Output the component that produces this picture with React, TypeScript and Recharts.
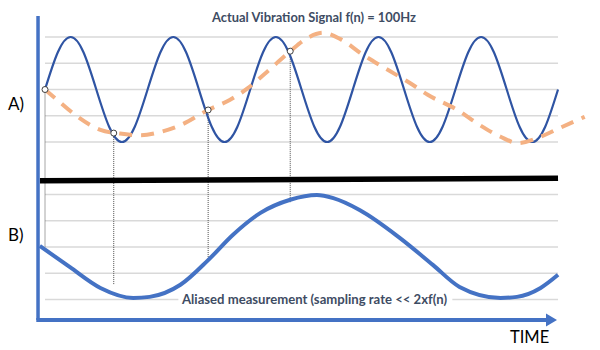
import React from "react";
import { ComposedChart, Line, Scatter, XAxis, YAxis, ReferenceLine } from "recharts";

// ---- data (time in ms, amplitude in signal units) ----
const waveTimes = [
  0, 1.25, 2.5, 3.75, 5, 6.25, 7.5, 8.75,
  10, 11.25, 12.5, 13.75, 15, 16.25, 17.5, 18.75,
  20, 21.25, 22.5, 23.75, 25, 26.25, 27.5, 28.75,
  30, 31.25, 32.5, 33.75, 35, 36.25, 37.5, 38.75,
  40, 41.25, 42.5, 43.75, 45, 46.25, 47.5, 48.75, 50,
];
const waveValues = [
  0, 0.71, 1, 0.71, 0, -0.71, -1, -0.71,
  0, 0.71, 1, 0.71, 0, -0.71, -1, -0.71,
  0, 0.71, 1, 0.71, 0, -0.71, -1, -0.71,
  0, 0.71, 1, 0.71, 0, -0.71, -1, -0.71,
  0, 0.71, 1, 0.71, 0, -0.71, -1, -0.71, 0,
];

const aliasTimes = [
  0, 1.2, 3.2, 5.4, 7.3, 9.3, 11.2, 13.2, 15.9, 18.0, 19.8, 21.6, 23.9,
  25.4, 27.1, 28.8, 31.0, 33.1, 35.6, 37.3, 40.2, 42.4, 44.4, 46.1, 48.3, 50.2, 52.6,
];
const aliasValues = [
  0, -0.2, -0.52, -0.77, -0.84, -0.87, -0.81, -0.68, -0.39, -0.2, 0.03, 0.33, 0.73,
  0.96, 1.08, 0.96, 0.66, 0.41, 0.12, -0.1, -0.39, -0.68, -0.9, -1.02, -0.9, -0.73, -0.52,
];

const measuredTimes = [
  -0.5, 2.4, 5.4, 8.6, 10.2, 13.2, 15.9, 18.3, 21.0, 23.9, 26.5,
  28.1, 30.7, 34.6, 37.8, 40.4, 44.4, 46.0, 48.3, 50,
];
const measuredValues = [
  0.02, -0.38, -0.78, -0.97, -0.95, -0.72, -0.25, 0.23, 0.65, 0.9, 0.99,
  0.93, 0.7, 0.17, -0.34, -0.76, -0.97, -0.95, -0.78, -0.53,
];

const separatorTimes = [-0.5, 50];
const separatorValues = [1.26, 1.31];

const sampleTimes = [0, 6.7, 15.9, 23.9];
const sampleTopValues = [0, -0.83, -0.39, 0.73];
const sampleBottomValues = [0, -0.72, -0.25, 0.84];

const gridLevels = [1, 0.5, 0, -0.5, -1];

const titleTop = "Actual Vibration Signal f(n) = 100Hz";
const titleBottom = "Aliased measurement (sampling rate << 2xf(n)";
const labelA = "A)";
const labelB = "B)";
const labelTime = "TIME";

// ---- layout constants ----
const W = 600;
const H = 350;
const TOP_OFFSET = 3;
const X_DOMAIN: [number, number] = [-4.386, 54.09];
const Y_DOMAIN: [number, number] = [-1.962, 4.705];
const AXIS_X = -0.68;
const AXIS_END = 49.9;
const AXIS_BOTTOM = -1.39;
const AXIS_TOP = 4.4;
const GRID_START = 0;
const GRID_END = 50;
const LABEL_GAP: [number, number] = [13.0, 39.7];

const BLUE = "#4472C4";
const DARK_BLUE = "#2F54A3";
const ORANGE = "#F4B183";
const TITLE_COLOR = "#3E4C63";
const FONT = "Lato, 'Open Sans', sans-serif";

const zip = (ts: number[], vs: number[]) => ts.map((t, i) => ({ t, v: vs[i] }));

const waveData = zip(waveTimes, waveValues);
const aliasData = zip(aliasTimes, aliasValues);
const measuredData = zip(measuredTimes, measuredValues);
const separatorData = zip(separatorTimes, separatorValues);
const sampleData = zip(sampleTimes, sampleTopValues);

const top = (d: { v: number }) => d.v + TOP_OFFSET;
const plain = (d: { v: number }) => d.v;

// bottom grid segments: lowest line is interrupted behind the caption
const bottomGridSegments: { y: number; from: number; to: number }[] = [];
gridLevels.forEach((g) => {
  if (g === -1) {
    bottomGridSegments.push({ y: g, from: GRID_START, to: LABEL_GAP[0] });
    bottomGridSegments.push({ y: g, from: LABEL_GAP[1], to: GRID_END });
  } else {
    bottomGridSegments.push({ y: g, from: GRID_START, to: GRID_END });
  }
});

const ArrowShape = (props: any) => {
  const { x1, y1, x2, y2 } = props;
  return (
    <g>
      <line x1={x1} y1={y1} x2={x2 - 9} y2={y2} stroke={BLUE} strokeWidth={4} />
      <polygon
        points={`${x2},${y2} ${x2 - 11},${y2 - 6.5} ${x2 - 11},${y2 + 6.5}`}
        fill={BLUE}
      />
    </g>
  );
};

const SampleDot = (props: any) => {
  const { cx, cy } = props;
  return <circle cx={cx} cy={cy} r={3} fill="#fff" stroke="#404040" strokeWidth={1} />;
};

export default function App() {
  return (
    <div style={{ position: "absolute", left: 0, top: 0, width: W, height: H, background: "#fff" }}>
      <ComposedChart width={W} height={H} margin={{ top: 0, right: 0, bottom: 0, left: 0 }}>
        <XAxis type="number" dataKey="t" domain={X_DOMAIN} hide allowDataOverflow />
        <YAxis type="number" domain={Y_DOMAIN} hide allowDataOverflow />

        {gridLevels.map((g) => (
          <ReferenceLine
            key={"gt" + g}
            segment={[{ x: GRID_START, y: g + TOP_OFFSET }, { x: GRID_END, y: g + TOP_OFFSET }]}
            stroke="#D9D9D9"
            strokeWidth={1.5}
            ifOverflow="visible"
          />
        ))}
        {bottomGridSegments.map((s, i) => (
          <ReferenceLine
            key={"gb" + i}
            segment={[{ x: s.from, y: s.y }, { x: s.to, y: s.y }]}
            stroke="#D9D9D9"
            strokeWidth={1.5}
            ifOverflow="visible"
          />
        ))}

        {sampleTimes.map((t, i) => (
          <ReferenceLine
            key={"s" + i}
            segment={[
              { x: t, y: sampleTopValues[i] + TOP_OFFSET },
              { x: t, y: sampleBottomValues[i] },
            ]}
            stroke="#4D4D4D"
            strokeWidth={1}
            strokeDasharray="1 1"
            ifOverflow="visible"
          />
        ))}

        <Line
          data={waveData}
          dataKey={top}
          type="natural"
          stroke={DARK_BLUE}
          strokeWidth={2.2}
          dot={false}
          activeDot={false}
          isAnimationActive={false}
        />
        <Line
          data={aliasData}
          dataKey={top}
          type="monotone"
          stroke={ORANGE}
          strokeWidth={4}
          strokeDasharray="13 9"
          dot={false}
          activeDot={false}
          isAnimationActive={false}
        />
        <Line
          data={separatorData}
          dataKey={plain}
          type="linear"
          stroke="#000"
          strokeWidth={5.5}
          dot={false}
          activeDot={false}
          isAnimationActive={false}
        />
        <Line
          data={measuredData}
          dataKey={plain}
          type="monotone"
          stroke={BLUE}
          strokeWidth={4}
          dot={false}
          activeDot={false}
          isAnimationActive={false}
        />
        <Scatter
          data={sampleData}
          dataKey={top}
          shape={<SampleDot />}
          isAnimationActive={false}
        />

        <ReferenceLine
          segment={[{ x: AXIS_X, y: AXIS_BOTTOM }, { x: AXIS_X, y: AXIS_TOP }]}
          stroke={BLUE}
          strokeWidth={3.5}
          ifOverflow="visible"
        />
        <ReferenceLine
          segment={[{ x: AXIS_X - 0.17, y: AXIS_BOTTOM }, { x: AXIS_END, y: AXIS_BOTTOM }]}
          shape={<ArrowShape />}
          ifOverflow="visible"
        />

        <text x={314} y={22} textAnchor="middle" fontFamily={FONT} fontWeight="bold" fontSize={13.5}
          fill={TITLE_COLOR} textLength={204} lengthAdjust="spacingAndGlyphs">
          {titleTop}
        </text>
        <text x={314.5} y={304} textAnchor="middle" fontFamily={FONT} fontWeight="bold" fontSize={13.5}
          fill={TITLE_COLOR} textLength={265} lengthAdjust="spacingAndGlyphs">
          {titleBottom}
        </text>
        <text x={8} y={110} fontFamily={FONT} fontSize={17} fill="#000">{labelA}</text>
        <text x={8} y={241} fontFamily={FONT} fontSize={17} fill="#000">{labelB}</text>
        <text x={510} y={343} fontFamily={FONT} fontSize={16.5} fill="#000">{labelTime}</text>
      </ComposedChart>
    </div>
  );
}
